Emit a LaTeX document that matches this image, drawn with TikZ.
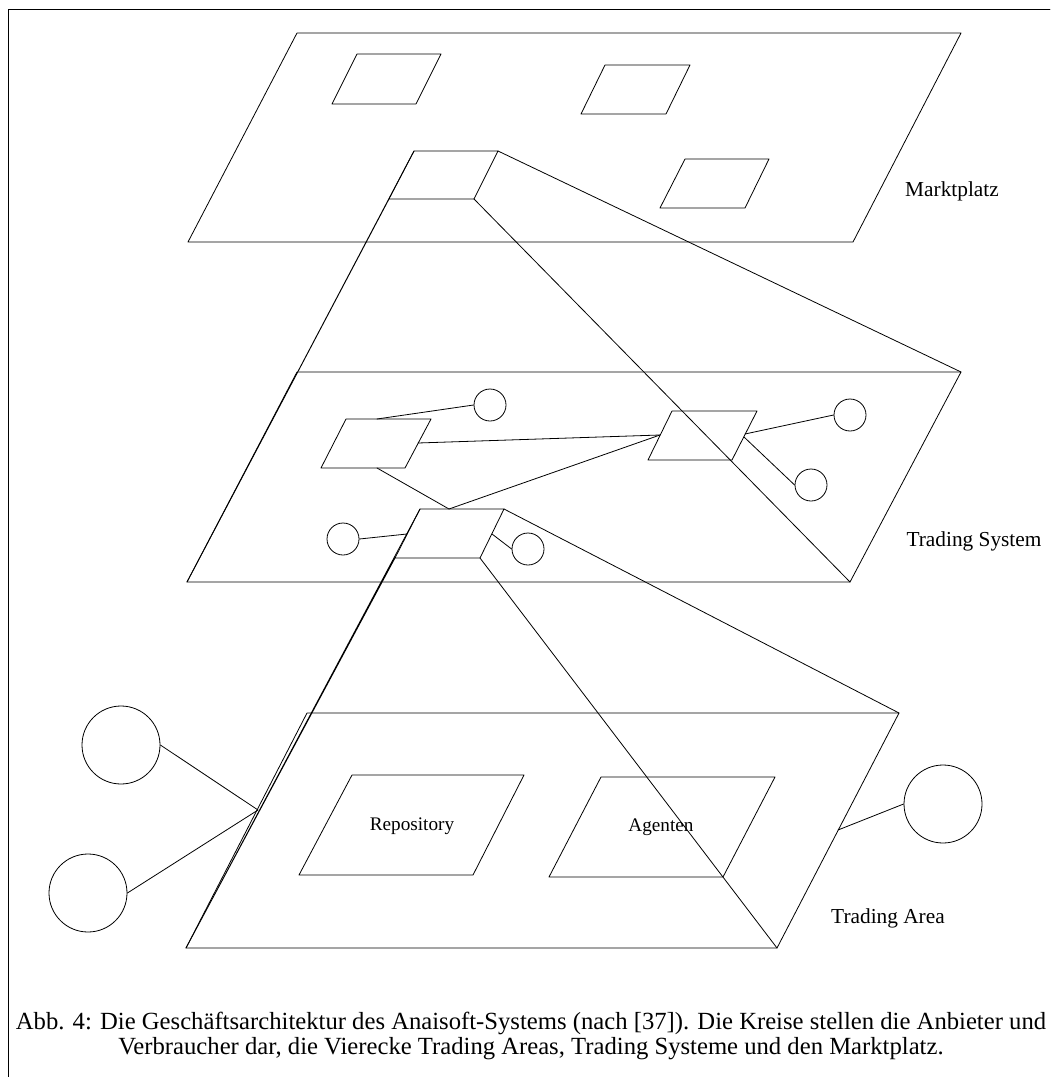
\documentclass[tikz,border=0pt]{standalone}
\usepackage{fontspec}
\setmainfont{Liberation Serif}
\begin{document}
\begin{tikzpicture}[x=0.75pt,y=-0.75pt,line join=round,line cap=round,line width=0.6pt,
	font=\fontsize{16}{18.75}\selectfont,
	kreis/.style={circle,draw,inner sep=0pt,minimum size=24pt},
	grosskreis/.style={circle,draw,inner sep=0pt,minimum size=58.5pt},
	ebene/.style={inner sep=0pt,anchor=center},
	innen/.style={inner sep=0pt,font=\fontsize{14.4}{16}\selectfont}]
	\useasboundingbox (0,0) rectangle (1050,1077);
	% Rahmen
	\draw (8,1077) -- (8,9) -- (1050,9);
	% Marktplatz
	\path
	(297,33) coordinate (M1) (961,33) coordinate (M2)
	(853,242) coordinate (M3) (188,242) coordinate (M4)
	(414,151) coordinate (S1) (498,151) coordinate (S2)
	(474,199) coordinate (S3) (389,199) coordinate (S4)
	;
	\draw (M1)--(M2)--(M3)--(M4)--cycle;
	\draw (357,54)--(441,54)--(416,104)--(332,104)--cycle;
	\draw (605,65)--(690,65)--(666,114)--(581,114)--cycle;
	\draw (685,159)--(769,159)--(745,208)--(660,208)--cycle;
	\draw (S1)--(S2)--(S3)--(S4)--cycle;
	\node[ebene] (markt) at (952,191) {Marktplatz};
	% Trading System
	\path
	(297,372) coordinate (T1) (961,372) coordinate (T2)
	(850,582) coordinate (T3) (187,582) coordinate (T4)
	(346,419) coordinate (A1) (431,419) coordinate (A2)
	(405,468) coordinate (A3) (321,468) coordinate (A4)
	(672,411) coordinate (B1) (757,411) coordinate (B2)
	(732,460) coordinate (B3) (648,460) coordinate (B4)
	(420,509) coordinate (C1) (504,509) coordinate (C2)
	(480,558) coordinate (C3) (395,558) coordinate (C4)
	(377,419) coordinate (A-o) (418,443) coordinate (A-r) (377,468) coordinate (A-u)
	(660,435) coordinate (B-l) (745,434) coordinate (B-r1) (744,437) coordinate (B-r2)
	(449,509) coordinate (C-o) (407,534) coordinate (C-l) (492,534) coordinate (C-r)
	;
	\draw (T1)--(T2)--(T3)--(T4)--cycle;
	\draw (A1)--(A2)--(A3)--(A4)--cycle;
	\draw (B1)--(B2)--(B3)--(B4)--cycle;
	\draw (C1)--(C2)--(C3)--(C4)--cycle;
	\node[kreis] (k1) at (490,405) {};
	\node[kreis] (k2) at (850,415) {};
	\node[kreis] (k3) at (811,485) {};
	\node[kreis] (k4) at (343,539) {};
	\node[kreis] (k5) at (528,549) {};
	\draw (A-o) -- (k1.west);
	\draw (A-r) -- (B-l);
	\draw (A-u) -- (C-o) -- (B-l);
	\draw (B-r1) -- (k2.west);
	\draw (B-r2) -- (k3.west);
	\draw (k4.east) -- (C-l);
	\draw (C-r) -- (k5.west);
	\node[ebene] (system) at (974,541) {Trading System};
	% Trading Area
	\path
	(307,713) coordinate (R1) (899,713) coordinate (R2)
	(777,948) coordinate (R3) (186,948) coordinate (R4)
	(258,810) coordinate (R-l) (838,830) coordinate (R-r)
	;
	\draw (R1)--(R2)--(R3)--(R4)--cycle;
	\draw (352,775)--(524,775)--(473,875)--(299,875)--cycle;
	\draw (601,777)--(775,777)--(723,877)--(549,877)--cycle;
	\node[innen] (repo) at (412,826) {Repository};
	\node[innen] (agenten) at (661,827) {Agenten};
	\node[grosskreis] (g1) at (121,745) {};
	\node[grosskreis] (g2) at (88,893) {};
	\node[grosskreis] (g3) at (943,804) {};
	\draw (g1.east) -- (R-l) -- (g2.east);
	\draw (R-r) -- (g3.west);
	\node[ebene] (area) at (888,918) {Trading Area};
	% Verbindungen zwischen den Ebenen
	\draw (S1) -- (T4) (S4) -- (T4);
	\draw (S2) -- (T2);
	\draw (S3) -- (T3);
	\draw (C1) -- (R4) (C4) -- (R4);
	\draw (C2) -- (R2);
	\draw (C3) -- (R3);
	% Bildunterschrift
	\node[align=center,inner sep=0pt,font=\fontsize{18.5}{18.75}\selectfont] (caption) at (531,1036)
	{Abb. 4: Die Geschäftsarchitektur des Anaisoft-Systems (nach [37]). Die Kreise stellen die Anbieter und\\
		Verbraucher dar, die Vierecke Trading Areas, Trading Systeme und den Marktplatz.};
\end{tikzpicture}
\end{document}
